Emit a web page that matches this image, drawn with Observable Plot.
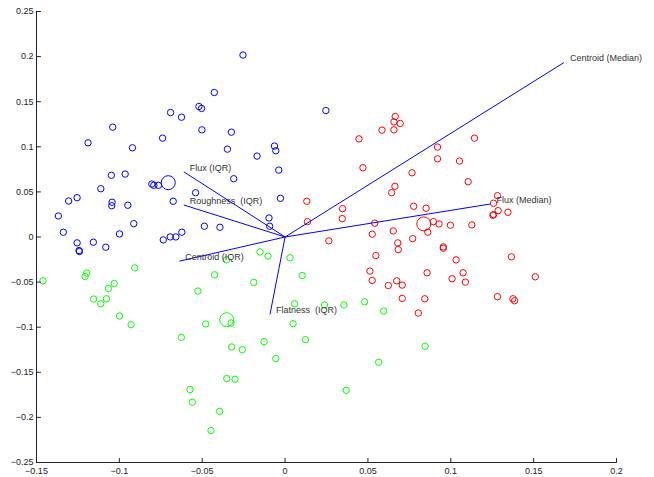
<!DOCTYPE html>
<html>
<head>
<meta charset="utf-8">
<script src="https://cdn.jsdelivr.net/npm/d3@7"></script>
<script src="https://cdn.jsdelivr.net/npm/@observablehq/plot@0.6"></script>
<style>
  html, body { margin: 0; padding: 0; background: #fff; }
  #chart svg { display: block; }
</style>
</head>
<body>
<div id="chart"></div>
<script>
// Group 1 (blue) scores [x, y]
const blueGroup = [
  [-0.0254,0.2017],[-0.0427,0.1602],[-0.0520,0.1447],[-0.0504,0.1425],[-0.0691,0.1380],
  [-0.0625,0.1328],[-0.1040,0.1218],[-0.0502,0.1188],[-0.0324,0.1162],[-0.0739,0.1096],
  [-0.1189,0.1044],[-0.0921,0.0989],[-0.0348,0.0974],[0.0246,0.1402],[-0.0064,0.1008],
  [-0.0056,0.0956],[-0.0169,0.0897],[-0.1048,0.0684],[-0.0965,0.0698],[-0.1112,0.0535],
  [-0.1044,0.0385],[-0.1046,0.0347],[-0.0949,0.0352],[-0.1306,0.0399],[-0.1255,0.0436],
  [-0.1368,0.0233],[-0.0913,0.0148],[-0.1338,0.0053],[-0.0999,0.0034],[-0.1255,-0.0065],
  [-0.1157,-0.0058],[-0.1243,-0.0150],[-0.1241,-0.0161],[-0.1082,-0.0113],[-0.0804,0.0587],
  [-0.0792,0.0573],[-0.0764,0.0573],[-0.0675,0.0396],[-0.0540,0.0491],[-0.0310,0.0646],
  [-0.0735,-0.0032],[-0.0693,0.0001],[-0.0659,0.0001],[-0.0623,0.0053],[-0.0487,0.0119],
  [-0.0393,0.0108],[-0.0038,0.0742],[-0.0028,0.0429],[-0.0097,0.0211],[-0.0093,0.0119]
];
// Group 2 (green) scores
const greenGroup = [
  [-0.1461,-0.0486],[-0.1197,-0.0400],[-0.1207,-0.0438],[-0.0907,-0.0342],[-0.1031,-0.0515],
  [-0.1066,-0.0571],[-0.1155,-0.0688],[-0.1078,-0.0685],[-0.1112,-0.0740],[-0.0425,-0.0419],
  [-0.0526,-0.0599],[-0.0354,-0.0253],[-0.0999,-0.0876],[-0.0929,-0.0972],[-0.0626,-0.1113],
  [-0.0479,-0.0964],[-0.0326,-0.0953],[-0.0322,-0.1219],[-0.0258,-0.1249],[-0.0352,-0.1569],
  [-0.0302,-0.1577],[-0.0574,-0.1691],[-0.0560,-0.1832],[-0.0395,-0.1934],[-0.0447,-0.2145],
  [-0.0151,-0.0165],[-0.0103,-0.0212],[0.0030,-0.0231],[0.0103,-0.0427],[-0.0189,-0.0504],
  [0.0057,-0.0740],[0.0238,-0.0754],[0.0355,-0.0754],[0.0480,-0.0718],[0.0595,-0.0821],
  [0.0048,-0.0961],[-0.0127,-0.1160],[0.0123,-0.1138],[-0.0056,-0.1348],[0.0565,-0.1389],
  [0.0845,-0.1212],[0.0369,-0.1699]
];
// Group 3 (red) scores
const redGroup = [
  [0.0446,0.1088],[0.0585,0.1185],[0.0657,0.1188],[0.0665,0.1336],[0.0657,0.1276],
  [0.0695,0.1259],[0.0920,0.0997],[0.0920,0.0867],[0.1143,0.1096],[0.1053,0.0842],
  [0.0470,0.0768],[0.0766,0.0712],[0.0663,0.0562],[0.0643,0.0491],[0.0131,0.0396],
  [0.0347,0.0314],[0.0345,0.0204],[0.0135,0.0170],[0.0776,0.0341],[0.0851,0.0319],
  [0.0895,0.0170],[0.0929,0.0145],[0.0541,0.0153],[0.0653,0.0067],[0.0526,0.0031],
  [0.0861,0.0053],[0.0264,-0.0043],[0.0680,-0.0065],[0.0683,-0.0139],[0.0770,-0.0018],
  [0.0548,-0.0206],[0.0512,-0.0378],[0.0526,-0.0482],[0.0623,-0.0538],[0.0674,-0.0486],
  [0.0707,-0.0533],[0.0857,-0.0397],[0.0707,-0.0681],[0.0843,-0.0685],[0.1105,0.0613],
  [0.1282,0.0458],[0.1258,0.0374],[0.1286,0.0292],[0.1254,0.0241],[0.1258,0.0248],
  [0.1345,0.0274],[0.0998,0.0131],[0.1127,0.0134],[0.0955,-0.0109],[0.0955,-0.0124],
  [0.1032,-0.0253],[0.1366,-0.0220],[0.1074,-0.0397],[0.1008,-0.0463],[0.1088,-0.0500],
  [0.1510,-0.0441],[0.1282,-0.0662],[0.1375,-0.0685],[0.1385,-0.0707],[0.0804,-0.0843]
];
// Group means (large circles)
const groupNames = ["Group 1", "Group 2", "Group 3"];
const groupColors = ["#0000ff", "#00ff00", "#ff0000"];
const groupMeans = [[-0.0705,0.0602],[-0.0352,-0.0917],[0.0837,0.0145]];

// Loading vectors
const varNames = ["Centroid (Median)", "Flux (Median)", "Flux (IQR)", "Roughness  (IQR)", "Centroid (IQR)", "Flatness  (IQR)"];
const varX = [0.1683, 0.1239, -0.0611, -0.0611, -0.0638, -0.0091];
const varY = [0.1934, 0.0366, 0.0723, 0.0355, -0.0268, -0.0858];

// Axes
const xTicks = [-0.15, -0.1, -0.05, 0, 0.05, 0.1, 0.15, 0.2];
const xTickLabels = ["\u22120.15", "\u22120.1", "\u22120.05", "0", "0.05", "0.1", "0.15", "0.2"];
const yTicks = [-0.25, -0.2, -0.15, -0.1, -0.05, 0, 0.05, 0.1, 0.15, 0.2, 0.25];
const yTickLabels = ["\u22120.25", "\u22120.2", "\u22120.15", "\u22120.1", "\u22120.05", "0", "0.05", "0.1", "0.15", "0.2", "0.25"];
const xDomain = [-0.15, 0.2];
const yDomain = [-0.25, 0.25];

const groups = [blueGroup, greenGroup, redGroup];
const points = groups.flatMap((g, i) => g.map(([x, y]) => ({x, y, g: groupNames[i]})));
const means = groupMeans.map(([x, y], i) => ({x, y, g: groupNames[i]}));
const vectors = varNames.map((name, i) => ({name, x: varX[i], y: varY[i]}));

const tickShape = {draw(context, l) { context.moveTo(0, 0); context.lineTo(0, -l); }};
const font = "'Liberation Sans', Arial, Helvetica, sans-serif";

const chart = Plot.plot({
  width: 654,
  height: 477,
  marginLeft: 36,
  marginRight: 38,
  marginTop: 11,
  marginBottom: 15,
  style: {fontFamily: font, fontSize: "9px", background: "#fff", overflow: "visible"},
  x: {domain: xDomain},
  y: {domain: yDomain},
  color: {type: "ordinal", domain: groupNames, range: groupColors},
  marks: [
    Plot.dot(points, {x: "x", y: "y", stroke: "g", fill: "none", r: 3.2, strokeWidth: 1}),
    Plot.dot(means, {x: "x", y: "y", stroke: "g", fill: "none", r: 7, strokeWidth: 1}),
    Plot.link(vectors, {x1: () => 0, y1: () => 0, x2: "x", y2: "y", stroke: "#0000ff", strokeWidth: 1}),
    Plot.text(vectors, {x: "x", y: "y", text: "name", textAnchor: "start", dx: 6, dy: -4, fill: "#333", fontSize: 9}),
    // axis lines (left and bottom only)
    Plot.ruleX([xDomain[0]], {stroke: "#222", strokeWidth: 1}),
    Plot.ruleY([yDomain[0]], {stroke: "#222", strokeWidth: 1}),
    // inward ticks
    Plot.vector(xTicks, {x: d => d, y: () => yDomain[0], length: 4, rotate: 0, anchor: "start", shape: tickShape, stroke: "#222", strokeWidth: 1}),
    Plot.vector(yTicks, {x: () => xDomain[0], y: d => d, length: 4, rotate: 90, anchor: "start", shape: tickShape, stroke: "#222", strokeWidth: 1}),
    Plot.axisX({ticks: xTicks, tickSize: 0, tickPadding: 5, tickFormat: (d, i) => xTickLabels[i], fill: "#222", fontSize: 9, label: null}),
    Plot.axisY({ticks: yTicks, tickSize: 0, tickPadding: 3, tickFormat: (d, i) => yTickLabels[i], fill: "#222", fontSize: 9, label: null})
  ]
});
document.getElementById("chart").appendChild(chart);
</script>
</body>
</html>
